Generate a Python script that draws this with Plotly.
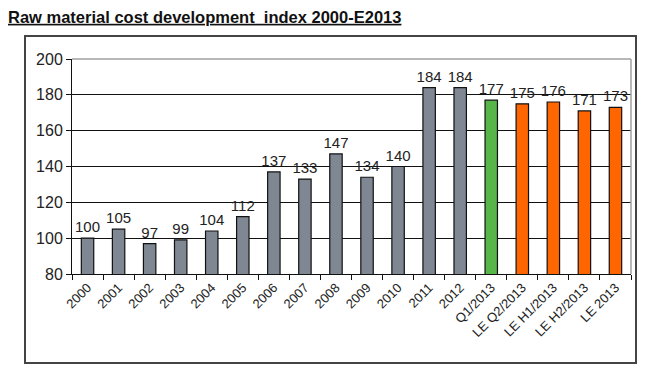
import plotly.graph_objects as go

categories = ["2000", "2001", "2002", "2003", "2004", "2005", "2006", "2007", "2008",
              "2009", "2010", "2011", "2012", "Q1/2013", "LE Q2/2013", "LE H1/2013",
              "LE H2/2013", "LE 2013"]
values = [100, 105, 97, 99, 104, 112, 137, 133, 147, 134, 140, 184, 184, 177, 175, 176, 171, 173]
bar_colors = ["#7F8792"] * 13 + ["#56B647"] + ["#FF6600"] * 4
y_ticks = [80, 100, 120, 140, 160, 180, 200]

OFF = 8  # page body margin
W, H = 651 - OFF, 378 - OFF
L, R, T, B = 72 - OFF, 631 - OFF, 59 - OFF, 274 - OFF

fig = go.Figure(go.Bar(
    x=categories, y=values,
    marker=dict(color=bar_colors, line=dict(color="#111111", width=1.2)),
    width=0.4,
    text=[str(v) for v in values], textposition="outside",
    textfont=dict(family="Arial, Liberation Sans", size=15, color="#222222"),
    constraintext="none",
    cliponaxis=False,
))

def px_x(x):
    return (x - OFF - L) / (R - L)

def px_y(y):
    return (B - (y - OFF)) / (B - T)

fig.update_layout(
    width=W, height=H,
    margin=dict(l=L, r=W - R, t=T, b=H - B),
    paper_bgcolor="white", plot_bgcolor="white",
    showlegend=False,
    font=dict(family="Arial, Liberation Sans", color="#222222"),
    title=dict(text="<b><u>Raw material cost development  index 2000-E2013</u></b>",
               x=0, xanchor="left", y=1 - 9 / H, yanchor="middle",
               font=dict(size=16.5, color="#111111")),
    xaxis=dict(
        type="category", tickangle=-45,
        tickfont=dict(size=13, color="#222222"),
        showline=True, linecolor="#111111", linewidth=1,
        ticks="outside", tickson="boundaries", ticklen=5, tickcolor="#111111",
        showgrid=False,
    ),
    yaxis=dict(
        range=[80, 200], tickvals=y_ticks,
        tickfont=dict(size=16, color="#222222"),
        showline=True, linecolor="#111111", linewidth=1,
        ticks="outside", ticklen=5, tickcolor="#111111",
        showgrid=True, gridcolor="#111111", gridwidth=1,
        zeroline=False,
    ),
    shapes=[
        dict(type="line", xref="paper", yref="paper", x0=0, x1=1, y0=1, y1=1,
             line=dict(color="#A0A0A0", width=1.5), layer="above"),
        dict(type="line", xref="paper", yref="paper", x0=1, x1=1, y0=0, y1=1,
             line=dict(color="#A0A0A0", width=1.5), layer="above"),
        dict(type="rect", xref="paper", yref="paper",
             x0=px_x(25), x1=px_x(636), y0=px_y(363), y1=px_y(36),
             line=dict(color="#444444", width=2), layer="below"),
    ],
)

fig.write_html("out.html")
